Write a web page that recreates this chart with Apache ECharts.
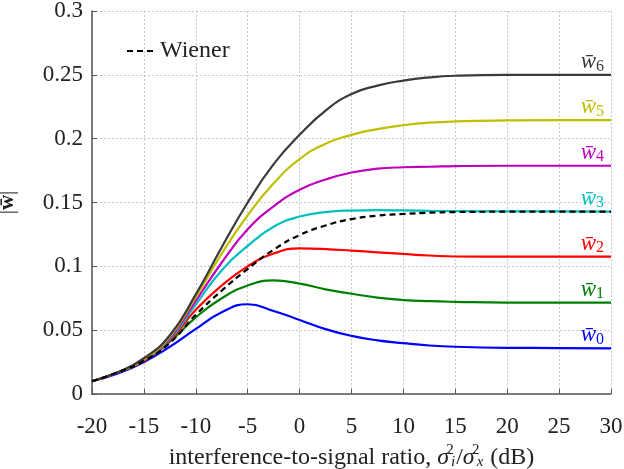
<!DOCTYPE html>
<html>
<head>
<meta charset="utf-8">
<title>Wiener weights</title>
<script src="https://cdn.jsdelivr.net/npm/echarts@6/dist/echarts.min.js"></script>
<style>
  html, body { margin: 0; padding: 0; background: #fff; }
  #main { width: 624px; height: 469px; }
</style>
</head>
<body>
<div id="main"></div>
<script type="text/javascript">
// interference-to-signal ratio (dB)
const isr = [-20, -17.5, -15, -12.5, -10, -7.5, -5, -2.5, 0, 2.5, 5, 7.5, 10, 12.5, 15, 20, 25, 30];

// |w| per coefficient
const w0 = [0.010, 0.016, 0.025, 0.037, 0.051, 0.064, 0.0703, 0.065, 0.058, 0.0508, 0.0455, 0.042, 0.0398, 0.038, 0.037, 0.0362, 0.036, 0.0358];
const w1 = [0.010, 0.017, 0.026, 0.041, 0.060, 0.075, 0.085, 0.089, 0.0865, 0.082, 0.0785, 0.0755, 0.0736, 0.0727, 0.0722, 0.0716, 0.0715, 0.0715];
const w2 = [0.010, 0.017, 0.026, 0.042, 0.066, 0.085, 0.100, 0.110, 0.114, 0.1135, 0.1123, 0.111, 0.1097, 0.1085, 0.1077, 0.1076, 0.1076, 0.1076];
const w3 = [0.010, 0.017, 0.027, 0.043, 0.070, 0.097, 0.116, 0.131, 0.139, 0.1425, 0.1437, 0.144, 0.1438, 0.1435, 0.1432, 0.143, 0.143, 0.1428];
const w4 = [0.010, 0.017, 0.027, 0.044, 0.073, 0.103, 0.129, 0.147, 0.160, 0.168, 0.1735, 0.1765, 0.1776, 0.178, 0.1785, 0.1788, 0.1788, 0.1788];
const w5 = [0.010, 0.017, 0.027, 0.045, 0.076, 0.110, 0.140, 0.165, 0.184, 0.196, 0.203, 0.2075, 0.2105, 0.2125, 0.2135, 0.2143, 0.2146, 0.2146];
const w6 = [0.010, 0.017, 0.028, 0.046, 0.078, 0.115, 0.150, 0.180, 0.203, 0.222, 0.235, 0.2415, 0.2455, 0.248, 0.2493, 0.250, 0.250, 0.250];
const wiener = [0.010, 0.017, 0.026, 0.040, 0.062, 0.081, 0.098, 0.113, 0.1245, 0.132, 0.137, 0.1397, 0.141, 0.142, 0.1425, 0.1428, 0.1428, 0.1428];

const weights = [w0, w1, w2, w3, w4, w5, w6];
const colors = ['#0000ff', '#008000', '#ff0000', '#00bfbf', '#bf00bf', '#bfbf00', '#3a3a3a'];

const font = 'Liberation Serif';
const txt = '#222';

let chart = echarts.init(document.getElementById('main'));

let series = weights.map((w, k) => ({
  name: 'w' + k,
  type: 'line',
  data: isr.map((x, i) => [x, w[i]]),
  symbol: 'none',
  smooth: 0.5,
  lineStyle: { color: colors[k], width: 2.2 },
  itemStyle: { color: colors[k] },
  z: 3,
  endLabel: {
    show: true,
    distance: 0,
    align: 'right',
    verticalAlign: 'middle',
    offset: [-7, -13],
    formatter: '{w|w\u0304}{s|' + k + '}',
    rich: {
      w: { fontFamily: font, fontStyle: 'italic', fontSize: 23, color: colors[k] },
      s: { fontFamily: font, fontSize: 16, color: colors[k], padding: [9, 0, 0, 0] }
    }
  }
}));

series.push({
  name: 'Wiener',
  type: 'line',
  data: isr.map((x, i) => [x, wiener[i]]),
  symbol: 'none',
  smooth: 0.5,
  lineStyle: { color: '#000', width: 2.2, type: [6, 4] },
  itemStyle: { color: '#000' },
  z: 4
});

chart.setOption({
  animation: false,
  grid: { left: 92, right: 13, top: 11, bottom: 75, outerBoundsMode: 'none' },
  legend: {
    data: ['Wiener'],
    left: 121,
    top: 34,
    itemWidth: 28,
    itemHeight: 14,
    itemGap: 9,
    itemStyle: { opacity: 0 },
    textStyle: { fontFamily: font, fontSize: 24, color: txt }
  },
  xAxis: {
    type: 'value',
    min: -20,
    max: 30,
    interval: 5,
    name: '{t|interference-to-signal ratio, }{g|σ}{p|2}{b|i}{t|/}{g|σ}{p|2}{b|x}{t| (dB)}',
    nameLocation: 'middle',
    nameGap: 44,
    nameTextStyle: {
      fontFamily: font, fontSize: 24, color: txt,
      rich: {
        t: { fontFamily: font, fontSize: 24, color: txt },
        g: { fontFamily: font, fontStyle: 'italic', fontSize: 24, color: txt },
        p: { fontFamily: font, fontSize: 15, color: txt, width: 0, padding: [0, 0, 14, 1] },
        b: { fontFamily: font, fontStyle: 'italic', fontSize: 15, color: txt, padding: [10, 1, 0, 1] }
      }
    },
    axisLine: { onZero: false, lineStyle: { color: '#555', width: 1.5 } },
    axisTick: { inside: true, length: 5, lineStyle: { color: '#555' } },
    axisLabel: { fontFamily: font, fontSize: 23, color: txt, margin: 21 },
    splitLine: { show: true, lineStyle: { color: '#c8c8c8', type: [2, 2] } }
  },
  yAxis: {
    type: 'value',
    min: 0,
    max: 0.3,
    interval: 0.05,
    name: '|{b|w\u0304}|',
    nameLocation: 'middle',
    nameGap: 74,
    nameRotate: 90,
    nameTextStyle: {
      fontFamily: font, fontSize: 21, color: txt,
      rich: { b: { fontFamily: font, fontSize: 21, fontWeight: 'bold', color: txt } }
    },
    axisLine: { show: true, onZero: false, lineStyle: { color: '#555', width: 1.5 } },
    axisTick: { show: true, inside: true, length: 5, lineStyle: { color: '#555' } },
    axisLabel: { fontFamily: font, fontSize: 23, color: txt, margin: 9 },
    splitLine: { show: true, lineStyle: { color: '#c8c8c8', type: [2, 2] } }
  },
  series: series
});
</script>
</body>
</html>
